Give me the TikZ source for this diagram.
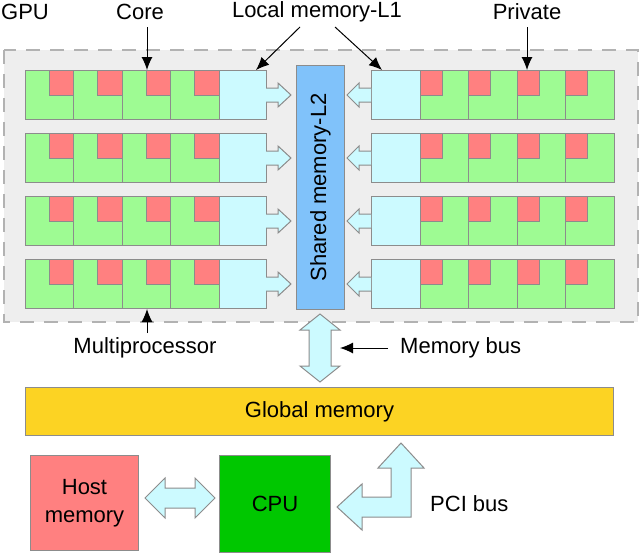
\documentclass[tikz,border=0pt]{standalone}
\usepackage{fontspec}
\setmainfont{Liberation Sans}
\usetikzlibrary{arrows.meta}
\begin{document}
\begin{tikzpicture}[x=1pt,y=-1pt,
  bx/.style={draw=gray!90,line width=1pt},
  core/.style={bx,fill=corecol},
  priv/.style={bx,fill=privcol},
  lm/.style={bx,fill=lmcol},
  barrow/.style={bx,fill=lmcol,line join=miter},
  lbl/.style={font=\fontsize{22}{26}\selectfont,inner sep=0pt},
  pt/.style={-{Latex[length=13pt,width=11pt]},line width=1pt}]
\definecolor{corecol}{HTML}{9EFB93}
\definecolor{privcol}{HTML}{FF8080}
\definecolor{lmcol}{HTML}{CCFAFF}
\definecolor{shcol}{HTML}{80C2FA}
\definecolor{glcol}{HTML}{FCD323}
\useasboundingbox (0,0) rectangle (640,554);
\fill[white] (0,0) rectangle (640,554);
\draw[gray!60,fill=gray!13,dashed,dash pattern=on 14pt off 10pt,line width=1.6pt] (4,50) rectangle (638,322);
% rows
\foreach \y in {70,133,196,259}{
  \foreach \i in {0,1,2,3}{
    \draw[core] (25+\i*48.5,\y) rectangle ++(48.5,49);
    \draw[priv] (49+\i*48.5,\y) rectangle ++(24.5,25);
    \draw[core] (420+\i*48.5,\y) rectangle ++(48.5,49);
    \draw[priv] (420+\i*48.5,\y) rectangle ++(22,25);
  }
  \draw[lm] (219,\y) rectangle ++(47,49);
  \draw[barrow] (266,\y+18) -- (278,\y+18) -- (278,\y+13) -- (291,\y+25) -- (278,\y+37) -- (278,\y+32) -- (266,\y+32);
  \draw[lm] (371,\y) rectangle ++(49,49);
  \draw[barrow] (371,\y+18) -- (359,\y+18) -- (359,\y+13) -- (347,\y+25) -- (359,\y+37) -- (359,\y+32) -- (371,\y+32);
}
\node[bx,fill=shcol,minimum width=48pt,minimum height=244pt,inner sep=0pt,anchor=north west] (sh) at (296,65) {};
\node[lbl,rotate=90] at (sh.center) {Shared memory-L2};
% memory bus arrow
\draw[barrow] (320,314) -- (340,330) -- (331,330) -- (331,366) -- (340,366) -- (320,382) -- (300,366) -- (309,366) -- (309,330) -- (300,330) -- cycle;
\node[lbl,anchor=west] (mb) at (400,348) {Memory bus};
\coordinate (mbt) at (340,348);
\draw[pt] (388,348) -- (mbt);
\node[bx,fill=glcol,minimum width=588pt,minimum height=48pt,anchor=north west,inner sep=0pt] (gm) at (25,387) {};
\node[lbl] at (gm.center) {Global memory};
% PCI
\draw[barrow] (401,443) -- (424,468) -- (411,468) -- (411,517) -- (362,517) -- (362,530) -- (337,507) -- (362,484) -- (362,497) -- (391,497) -- (391,468) -- (378,468) -- cycle;
\node[lbl,anchor=west] at (430,504) {PCI bus};
\node[bx,fill=privcol,minimum width=108pt,minimum height=95pt,anchor=north west,inner sep=0pt,align=center,font=\fontsize{22}{28}\selectfont] (host) at (30,455) {Host\\memory};
\node[bx,fill=green!78!black,minimum width=111pt,minimum height=97pt,anchor=north west,inner sep=0pt,font=\fontsize{22}{26}\selectfont] (cpu) at (219,455) {CPU};
\draw[barrow] (145,498) -- (165,478) -- (165,488) -- (195,488) -- (195,478) -- (215,498) -- (195,518) -- (195,508) -- (165,508) -- (165,518) -- cycle;
% top labels
\node[lbl] (gpu) at (25,12) {GPU};
\node[lbl] (corel) at (140,12) {Core};
\node[lbl] (lml) at (317,12) {Local memory-L1};
\node[lbl] (prl) at (527,12) {Private};
\node[lbl] (mpl) at (145,348) {Multiprocessor};
\coordinate (c1) at (147,70);
\coordinate (c2) at (256,70);
\coordinate (c3) at (382,70);
\coordinate (c4) at (527,70);
\coordinate (c5) at (147,309);
\draw[pt] (147,27) -- (c1);
\draw[pt] (300,27) -- (c2);
\draw[pt] (335,27) -- (c3);
\draw[pt] (527,27) -- (c4);
\draw[pt] (147,333) -- (c5);
\end{tikzpicture}
\end{document}
